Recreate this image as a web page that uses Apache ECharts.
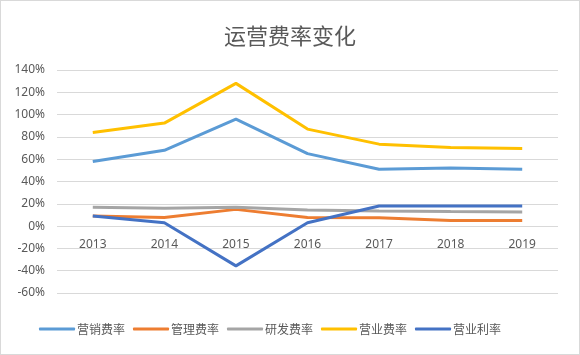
<!DOCTYPE html>
<html>
<head>
<meta charset="utf-8">
<script src="https://cdn.jsdelivr.net/npm/echarts@6/dist/echarts.min.js"></script>
<style>
html,body{margin:0;padding:0;background:#fff;}
#c{width:578px;height:353px;border:1px solid #d9d9d9;}
</style>
</head>
<body>
<div id="c"></div>
<script>
const years = ['2013','2014','2015','2016','2017','2018','2019'];
const marketing = [58, 68, 96, 65, 51, 52, 51];
const management = [9, 7.8, 15, 7.8, 7.5, 5, 5];
const rnd = [17, 16, 17, 14.4, 13.5, 13, 12.6];
const operating = [84, 92.4, 128, 87, 73.5, 70.5, 69.6];
const profit = [9, 3, -35.7, 3, 18, 18, 18];
const seriesNames = ['营销费率','管理费率','研发费率','营业费率','营业利率'];
const colors = ['#5B9BD5','#ED7D31','#A5A5A5','#FFC000','#4472C4'];

const chart = echarts.init(document.getElementById('c'));
const data = [marketing, management, rnd, operating, profit];
const gridTop = 69, gridBottom = 61, yMin = -60, yMax = 140;
const plotH = 353 - gridTop - gridBottom;
const zeroOffset = -plotH * (0 - yMin) / (yMax - yMin);
chart.setOption({
  animation: false,
  color: colors,
  title: {
    text: '运营费率变化',
    left: 'center',
    top: 19,
    textStyle: {fontSize: 22, fontWeight: 'normal', color: '#595959', fontFamily: 'Noto Sans CJK SC'}
  },
  legend: {
    bottom: 14,
    left: 33,
    itemWidth: 36,
    itemHeight: 3,
    itemGap: 8,
    icon: 'roundRect',
    textStyle: {fontSize: 12, color: '#595959', fontFamily: 'Noto Sans CJK SC', padding: [0,0,0,-3]},
    data: seriesNames
  },
  grid: {left: 56, right: 21, top: gridTop, bottom: gridBottom},
  xAxis: {
    type: 'category',
    data: years,
    boundaryGap: true,
    position: 'bottom',
    offset: zeroOffset,
    axisLine: {show: false, onZero: false},
    axisTick: {show: false},
    axisLabel: {color: '#595959', fontSize: 12, margin: 12, fontFamily: 'Noto Sans'}
  },
  yAxis: {
    type: 'value',
    min: yMin, max: yMax, interval: 20,
    axisLine: {show: false},
    axisTick: {show: false},
    axisLabel: {formatter: '{value}%', color: '#595959', fontSize: 12, margin: 12, fontFamily: 'Noto Sans'},
    splitLine: {lineStyle: {color: '#d9d9d9', width: 1}}
  },
  series: seriesNames.map((n, i) => ({
    name: n,
    type: 'line',
    data: data[i],
    symbol: 'none',
    lineStyle: {width: 3, color: colors[i]},
    itemStyle: {color: colors[i]}
  }))
});
</script>
</body>
</html>
